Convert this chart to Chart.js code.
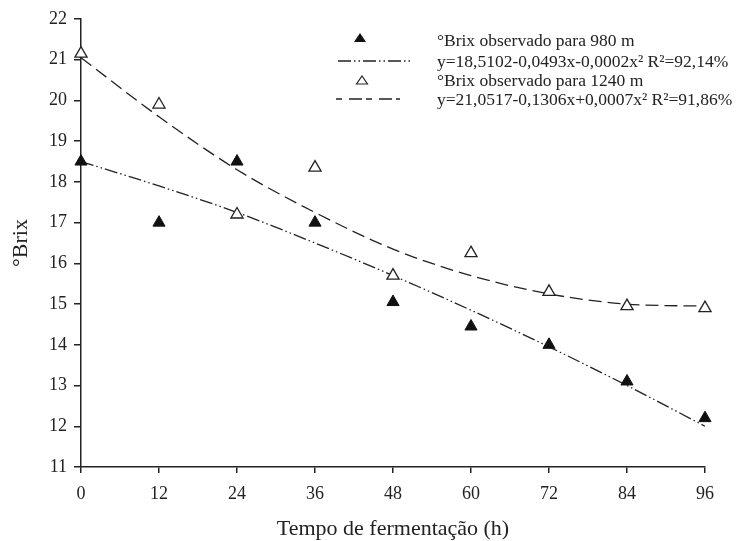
<!DOCTYPE html>
<html>
<head>
<meta charset="utf-8">
<script src="https://cdn.jsdelivr.net/npm/chart.js@4"></script>
<style>
  body { margin: 0; background: #fff; }
  #wrap { position: relative; width: 737px; height: 541px; }
  #legend { position: absolute; left: 336px; top: 0; font-family: "Liberation Serif", serif; font-size: 17.5px; color: #222; }
  .row { position: absolute; left: 0; height: 20px; line-height: 20px; white-space: nowrap; }
  .row svg { position: absolute; left: 0; top: 0; }
  .row span { position: absolute; left: 101px; top: 0; }
</style>
</head>
<body>
<div id="wrap">
  <canvas id="brixChart" width="737" height="541"></canvas>
  <div id="legend">
    <div class="row" style="top:30px">
      <svg width="80" height="20"><polygon points="24,3 30,12 18,12" fill="#111"/></svg>
      <span>°Brix observado para 980 m</span>
    </div>
    <div class="row" style="top:51px">
      <svg width="80" height="20"><line x1="2" y1="10" x2="76" y2="10" stroke="#222" stroke-width="1.3" stroke-dasharray="13 3 1.5 3 1.5 3"/></svg>
      <span>y=18,5102-0,0493x-0,0002x² R²=92,14%</span>
    </div>
    <div class="row" style="top:70px">
      <svg width="80" height="20"><polygon points="26,6 31.5,14 20.5,14" fill="#fff" stroke="#222" stroke-width="1.2"/></svg>
      <span>°Brix observado para 1240 m</span>
    </div>
    <div class="row" style="top:89px">
      <svg width="80" height="20"><line x1="0" y1="10" x2="64" y2="10" stroke="#222" stroke-width="1.3" stroke-dasharray="6 7 13 4"/></svg>
      <span>y=21,0517-0,1306x+0,0007x² R²=91,86%</span>
    </div>
  </div>
</div>
<script>
// hours of fermentation
const hours = [0, 12, 24, 36, 48, 60, 72, 84, 96];

// observed °Brix
const brix980 = [18.5, 17.0, 18.5, 17.0, 15.05, 14.45, 14.0, 13.1, 12.2];
const brix1240 = [21.15, 19.9, 17.2, 18.35, 15.7, 16.25, 15.3, 14.95, 14.9];

// fitted curves at each tick
const fit980 = [18.5, 17.9, 17.25, 16.5, 15.7, 14.85, 13.95, 13.0, 12.0];
const fit1240 = [21.05, 19.6, 18.3, 17.25, 16.35, 15.7, 15.25, 15.0, 14.95];

const xTicks = [0, 12, 24, 36, 48, 60, 72, 84, 96];
const yMin = 11, yMax = 22;

const axisColor = "#222";
const serif = "'Liberation Serif', 'Times New Roman', serif";

function toPoints(ys) {
  return hours.map((h, i) => ({ x: h, y: ys[i] }));
}

const ctx = document.getElementById("brixChart").getContext("2d");

new Chart(ctx, {
  type: "scatter",
  data: {
    datasets: [
      {
        label: "°Brix observado para 980 m",
        data: toPoints(brix980),
        pointStyle: "triangle",
        pointRadius: 7,
        backgroundColor: "#111",
        borderColor: "#111",
        borderWidth: 1,
        clip: false
      },
      {
        label: "°Brix observado para 1240 m",
        data: toPoints(brix1240),
        pointStyle: "triangle",
        pointRadius: 7,
        backgroundColor: "#fff",
        borderColor: "#222",
        borderWidth: 1.3,
        clip: false
      },
      {
        label: "ajuste 980 m",
        data: toPoints(fit980),
        showLine: true,
        pointRadius: 0,
        borderColor: "#222",
        borderWidth: 1.3,
        borderDash: [13, 3, 1.5, 3, 1.5, 3],
        cubicInterpolationMode: "monotone",
        clip: false
      },
      {
        label: "ajuste 1240 m",
        data: toPoints(fit1240),
        showLine: true,
        pointRadius: 0,
        borderColor: "#222",
        borderWidth: 1.3,
        borderDash: [13, 6],
        cubicInterpolationMode: "monotone",
        clip: false
      }
    ]
  },
  options: {
    responsive: false,
    animation: false,
    devicePixelRatio: 1,
    layout: { padding: { top: 19, right: 32, left: 0, bottom: 0 } },
    plugins: { legend: { display: false }, tooltip: { enabled: false } },
    scales: {
      x: {
        type: "linear",
        min: 0,
        max: 96,
        afterBuildTicks: s => { s.ticks = xTicks.map(v => ({ value: v })); },
        afterFit: s => { s.height = 74; },
        border: { color: axisColor, width: 1.5 },
        grid: { drawOnChartArea: false, tickLength: 6, color: axisColor, lineWidth: 1.5 },
        ticks: { color: axisColor, padding: 10, font: { family: serif, size: 18 } },
        title: {
          display: true,
          text: "Tempo de fermentação (h)",
          color: axisColor,
          font: { family: serif, size: 22, lineHeight: 1 },
          padding: { top: 0, bottom: 1 }
        }
      },
      y: {
        min: yMin,
        max: yMax,
        ticks: { stepSize: 1, color: axisColor, padding: 7, font: { family: serif, size: 18 } },
        afterFit: s => { s.width = 81; },
        border: { color: axisColor, width: 1.5 },
        grid: { drawOnChartArea: false, tickLength: 7, color: axisColor, lineWidth: 1.5 },
        title: {
          display: true,
          text: "°Brix",
          color: axisColor,
          font: { family: serif, size: 22 },
          padding: { top: 8, bottom: 0 }
        }
      }
    }
  }
});
</script>
</body>
</html>
